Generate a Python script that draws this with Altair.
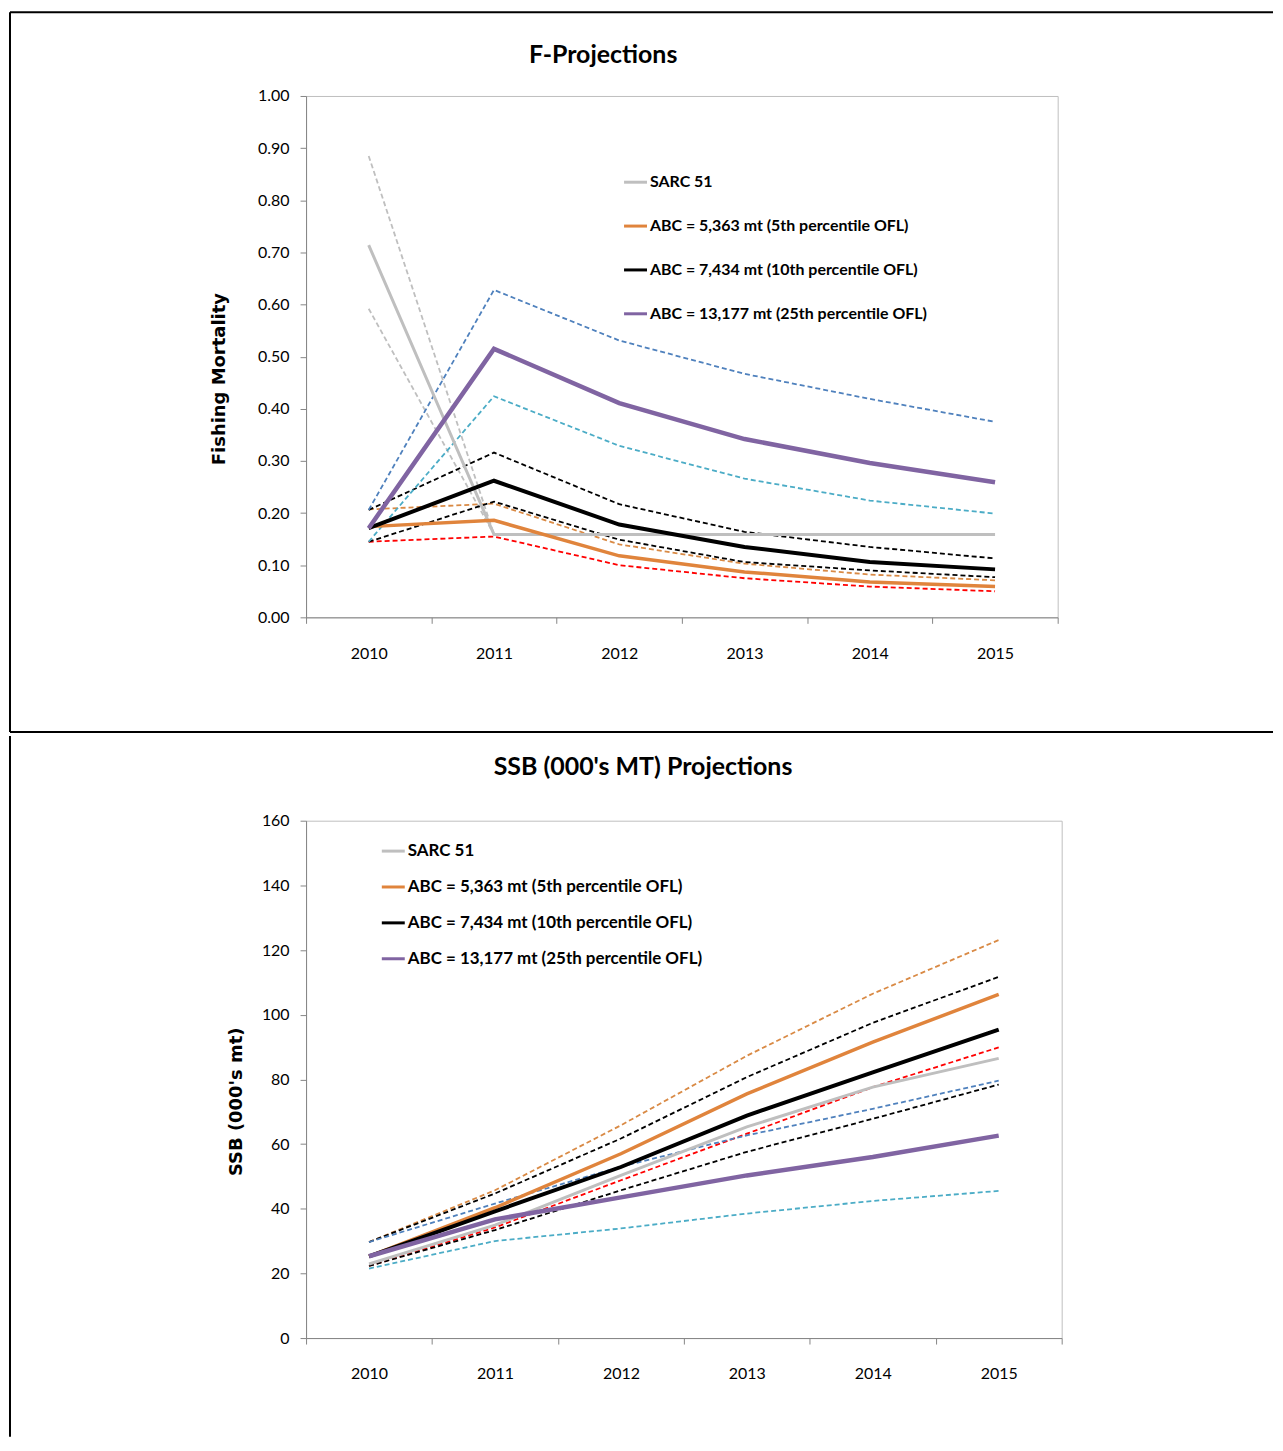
import altair as alt
import pandas as pd

# Jahre der Projektion
years = [2010, 2011, 2012, 2013, 2014, 2015]

# Legendennamen (durchgezogene Linien)
series_names = [
    "SARC 51",
    "ABC = 5,363 mt (5th percentile OFL)",
    "ABC = 7,434 mt (10th percentile OFL)",
    "ABC = 13,177 mt (25th percentile OFL)",
]
# Namen der gestrichelten Grenzlinien
bound_names = [
    "SARC 51 upper", "SARC 51 lower",
    "ABC 5th upper", "ABC 5th lower",
    "ABC 10th upper", "ABC 10th lower",
    "ABC 25th upper", "ABC 25th lower",
]

# F-Projections (Fishing Mortality)
f_sarc = [0.714, 0.159, 0.159, 0.159, 0.159, 0.159]
f_sarc_hi = [0.885, 0.159, None, None, None, None]
f_sarc_lo = [0.592, 0.159, None, None, None, None]
f_abc5 = [0.174, 0.186, 0.118, 0.087, 0.068, 0.059]
f_abc5_hi = [0.207, 0.218, 0.140, 0.103, 0.082, 0.071]
f_abc5_lo = [0.145, 0.155, 0.100, 0.075, 0.059, 0.050]
f_abc10 = [0.171, 0.262, 0.178, 0.135, 0.106, 0.092]
f_abc10_hi = [0.206, 0.316, 0.217, 0.164, 0.135, 0.113]
f_abc10_lo = [0.145, 0.222, 0.149, 0.106, 0.090, 0.077]
f_abc25 = [0.171, 0.515, 0.411, 0.342, 0.296, 0.259]
f_abc25_hi = [0.206, 0.628, 0.531, 0.467, 0.419, 0.375]
f_abc25_lo = [0.145, 0.424, 0.329, 0.266, 0.224, 0.199]

# SSB (000's mt) Projections
s_sarc = [22.9, 34.9, 50.3, 65.3, 77.6, 86.5]
s_abc5 = [25.3, 40.3, 57.0, 75.5, 91.5, 106.3]
s_abc5_hi = [29.7, 45.7, 65.8, 87.3, 106.5, 123.1]
s_abc5_lo = [22.3, 34.2, 48.8, 63.2, 77.6, 89.9]
s_abc10 = [25.3, 39.2, 52.9, 68.8, 82.2, 95.4]
s_abc10_hi = [29.7, 44.7, 61.7, 80.7, 97.5, 111.7]
s_abc10_lo = [22.3, 33.4, 45.7, 57.6, 67.8, 78.4]
s_abc25 = [25.3, 36.7, 43.5, 50.3, 56.0, 62.6]
s_abc25_hi = [29.7, 41.6, 53.0, 62.7, 70.9, 79.6]
s_abc25_lo = [21.5, 30.0, 33.9, 38.5, 42.4, 45.5]

# Farben wie in Excel
solid_colors = ["#BFBFBF", "#E0843C", "#000000", "#8064A2"]
bound_colors = ["#BFBFBF", "#BFBFBF", "#D98A45", "#FF0000",
                "#000000", "#000000", "#4F81BD", "#4BACC6"]


def long_table(names, columns):
    rows = []
    for name, vals in zip(names, columns):
        for yr, v in zip(years, vals):
            if v is not None:
                rows.append({"year": str(yr), "series": name, "value": v})
    return pd.DataFrame(rows)


def panel(solid_df, bound_df, title, title_x, title_y, y_title, y_title_x,
          y_domain, y_values, y_format, width, height, widths,
          legend_x, legend_y, row_pad, label_size, label_pad, top_y, bottom_y, is_top):
    x = alt.X("year:O", title=None,
              scale=alt.Scale(type="band", paddingInner=0, paddingOuter=0),
              bandPosition=0.5,
              axis=alt.Axis(labelAngle=0, tickBand="extent", labelPadding=label_pad))
    y = alt.Y("value:Q", scale=alt.Scale(domain=y_domain, nice=False),
              axis=alt.Axis(values=y_values, format=y_format, labelPadding=11,
                            title=y_title, titleX=y_title_x, titleY=height / 2 + 22,
                            titleAngle=270, titleAlign="center", titleBaseline="middle",
                            titleFont="DejaVu Sans", titleFontSize=18,
                            titleFontWeight="bold", titleColor="black"))

    dashed = alt.Chart(bound_df).mark_line(strokeDash=[5, 3], strokeWidth=1.8).encode(
        x=x, y=y,
        color=alt.Color("series:N", scale=alt.Scale(domain=bound_names, range=bound_colors),
                        legend=None),
        detail="series:N",
    )

    legend = alt.Legend(orient="none", legendX=legend_x, legendY=legend_y, title=None,
                        rowPadding=row_pad, labelFontSize=label_size, labelLimit=0)
    solid = alt.Chart(solid_df).mark_line().encode(
        x=x, y=y,
        color=alt.Color("series:N", scale=alt.Scale(domain=series_names, range=solid_colors),
                        legend=legend),
        strokeWidth=alt.StrokeWidth("series:N",
                                    scale=alt.Scale(domain=series_names, range=widths),
                                    legend=None),
    )

    # Rahmen der Word-Tabelle, Titel als Text
    frame = pd.DataFrame({"k": [0]})
    left = alt.Chart(frame).mark_rule(color="black", strokeWidth=2).encode(
        x=alt.value(-297), y=alt.value(top_y), y2=alt.value(bottom_y))
    head = alt.Chart(frame).mark_text(
        font="Lato", fontSize=25, fontWeight="bold", color="black",
        align="center", baseline="alphabetic",
    ).encode(x=alt.value(title_x), y=alt.value(title_y), text=alt.value(title))
    parts = [dashed, solid, left, head]
    if is_top:
        for yy in (top_y, bottom_y):
            parts.append(alt.Chart(frame).mark_rule(color="black", strokeWidth=2).encode(
                x=alt.value(-297), x2=alt.value(970), y=alt.value(yy)))

    return alt.layer(*parts).resolve_scale(color="independent").properties(
        width=width, height=height)


f_solid = long_table(series_names, [f_sarc, f_abc5, f_abc10, f_abc25])
f_bounds = long_table(bound_names, [f_sarc_hi, f_sarc_lo, f_abc5_hi, f_abc5_lo,
                                    f_abc10_hi, f_abc10_lo, f_abc25_hi, f_abc25_lo])
s_solid = long_table(series_names, [s_sarc, s_abc5, s_abc10, s_abc25])
s_bounds = long_table(bound_names, [[None] * 6, [None] * 6, s_abc5_hi, s_abc5_lo,
                                    s_abc10_hi, s_abc10_lo, s_abc25_hi, s_abc25_lo])

top = panel(f_solid, f_bounds, "F-Projections", 298, -33, "Fishing Mortality", -87,
            [0, 1], [i / 10 for i in range(11)], ".2f", 754, 523, [3, 4.5, 3, 3],
            317, 73, 22, 16, 22, -84, 638, True)
bottom = panel(s_solid, s_bounds, "SSB (000's MT) Projections", 338, -46, "SSB (000's mt)", -70,
               [0, 160], list(range(0, 161, 20)), "d", 758, 519, [3, 3, 3, 3],
               74, 17, 14, 17, 22, -85, 618, False)

chart = alt.vconcat(top, bottom, spacing=0).properties(padding=0).configure_view(
    stroke="#BFBFBF", strokeWidth=1
).configure_axis(
    domainColor="#868686", tickColor="#868686", tickSize=6, grid=False,
    labelFont="Lato", labelFontSize=16, labelColor="black",
).configure_legend(
    symbolType="stroke", symbolSize=530, symbolStrokeWidth=3, labelFont="Lato",
    labelFontWeight="bold", labelColor="black", labelOffset=1, padding=0,
)

chart.save("out.html", embed_options={"renderer": "svg", "actions": False})
